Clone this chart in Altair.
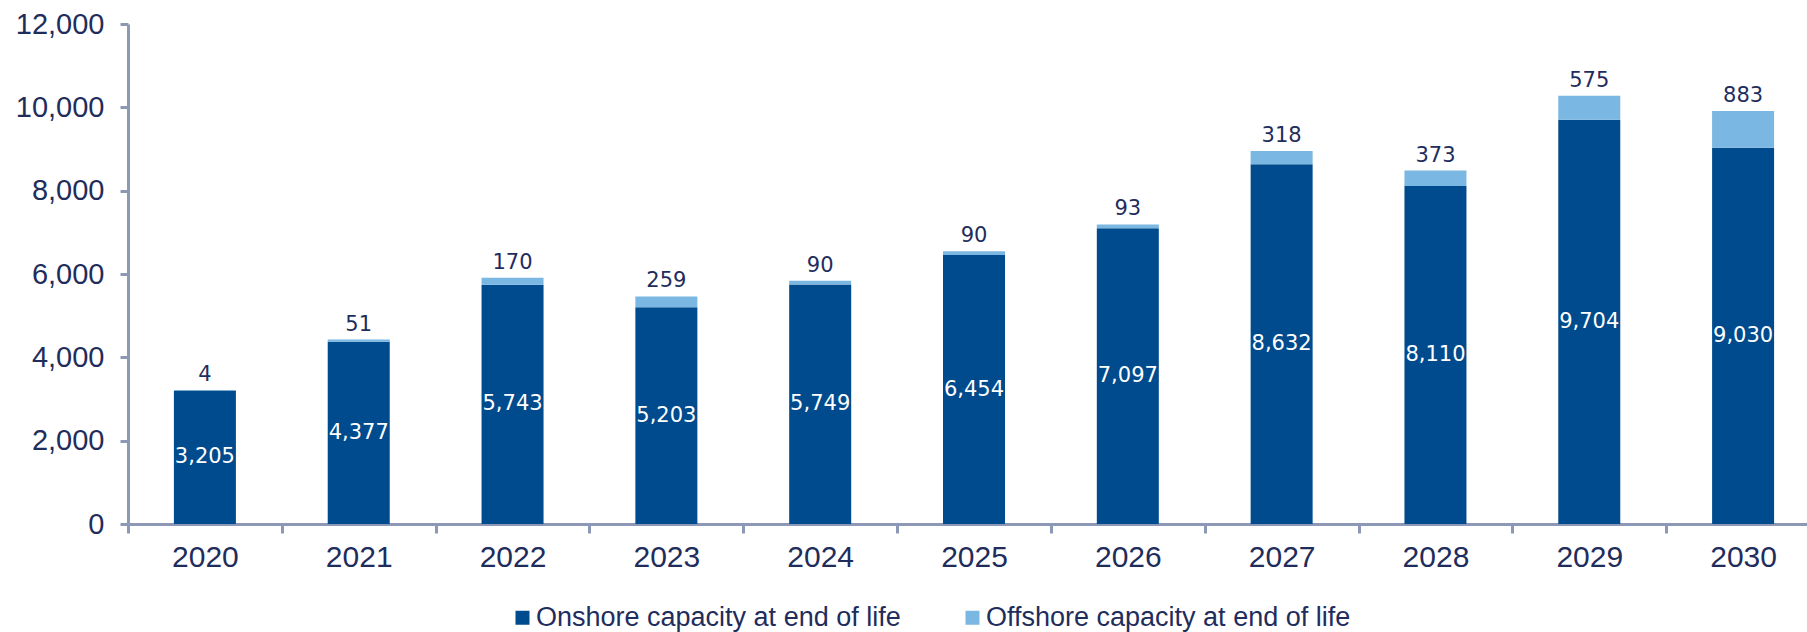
import altair as alt
import pandas as pd

years = ["2020", "2021", "2022", "2023", "2024", "2025", "2026", "2027", "2028", "2029", "2030"]
onshore = [3205, 4377, 5743, 5203, 5749, 6454, 7097, 8632, 8110, 9704, 9030]
offshore = [4, 51, 170, 259, 90, 90, 93, 318, 373, 575, 883]
series_names = ["Onshore capacity at end of life", "Offshore capacity at end of life"]
series_colors = ["#004B8D", "#7AB7E2"]
y_ticks = [0, 2000, 4000, 6000, 8000, 10000, 12000]

TEXT = "#1F2D5C"
AXIS = "#8C98B6"

rows = []
for i, yr in enumerate(years):
    rows.append({"year": yr, "series": series_names[0], "value": onshore[i], "order": 0})
    rows.append({"year": yr, "series": series_names[1], "value": offshore[i], "order": 1})
long_df = pd.DataFrame(rows)

wide_df = pd.DataFrame({"year": years, "onshore": onshore, "offshore": offshore})
wide_df["total"] = wide_df["onshore"] + wide_df["offshore"]
wide_df["mid"] = wide_df["onshore"] / 2

x_scale = alt.Scale(domain=years, range=[0, 1692], paddingInner=0, paddingOuter=0)
y_scale = alt.Scale(domain=[0, 12000], nice=False)

x_axis = alt.Axis(title=None, labelAngle=0, tickBand="extent", labelPadding=9,
                  tickSize=9, labelFontSize=30)
y_axis = alt.Axis(title=None, values=y_ticks, format=",.0f", labelPadding=16,
                  tickSize=8, labelFontSize=29)

bars = alt.Chart(long_df).mark_bar(width=62).encode(
    x=alt.X("year:N", scale=x_scale, axis=x_axis, sort=years),
    y=alt.Y("value:Q", stack="zero", scale=y_scale, axis=y_axis),
    color=alt.Color(
        "series:N",
        scale=alt.Scale(domain=series_names, range=series_colors),
        legend=alt.Legend(
            title=None, orient="none", legendX=381, legendY=580,
            direction="horizontal", symbolType="square", symbolSize=196,
            symbolStrokeWidth=0, symbolOpacity=1,
            labelFontSize=27, labelFont="Liberation Sans", labelColor=TEXT,
            labelLimit=700, columnPadding=58, labelOffset=0, padding=0,
        ),
    ),
    order=alt.Order("order:Q"),
)

inside = alt.Chart(wide_df).mark_text(
    color="white", font="DejaVu Sans", fontSize=21, baseline="middle", align="center"
).encode(
    x=alt.X("year:N", scale=x_scale, axis=x_axis, sort=years),
    y=alt.Y("mid:Q", scale=y_scale, axis=y_axis),
    text=alt.Text("onshore:Q", format=","),
)

top = alt.Chart(wide_df).mark_text(
    color=TEXT, font="DejaVu Sans", fontSize=21, baseline="bottom", align="center", dy=-5
).encode(
    x=alt.X("year:N", scale=x_scale, axis=x_axis, sort=years),
    y=alt.Y("total:Q", scale=y_scale, axis=y_axis),
    text=alt.Text("offshore:Q", format=","),
)

chart = alt.layer(bars, inside, top).properties(
    width=1679, height=500,
    autosize=alt.AutoSizeParams(type="none"),
    padding={"left": 128, "top": 24, "right": 0, "bottom": 108},
).configure_view(stroke=None).configure_axis(
    grid=False, domainColor=AXIS, domainWidth=3, tickColor=AXIS, tickWidth=3,
    labelFont="Liberation Sans", labelColor=TEXT,
)

chart.save("out.html", embed_options={"renderer": "svg", "actions": False})
